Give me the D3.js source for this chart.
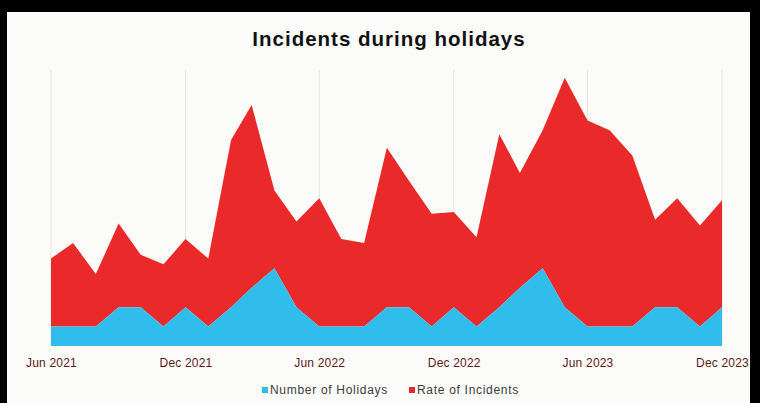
<!DOCTYPE html>
<html><head><meta charset="utf-8">
<script src="https://cdn.jsdelivr.net/npm/d3@7"></script>
<style>
html,body{margin:0;padding:0;background:#000;}
svg{display:block;}
</style></head>
<body>
<svg id="c" width="760" height="403"></svg>
<script>
const months = ["2021-06","2021-07","2021-08","2021-09","2021-10","2021-11","2021-12",
"2022-01","2022-02","2022-03","2022-04","2022-05","2022-06","2022-07","2022-08","2022-09","2022-10","2022-11","2022-12",
"2023-01","2023-02","2023-03","2023-04","2023-05","2023-06","2023-07","2023-08","2023-09","2023-10","2023-11","2023-12"];
const holidays = [1,1,1,2,2,1,2,1,2,3,4,2,1,1,1,2,2,1,2,1,2,3,4,2,1,1,1,2,2,1,2];
const incidentRate = [3.5,4.3,2.7,4.3,2.7,3.2,3.5,3.5,8.6,9.4,4.0,4.4,6.6,4.5,4.3,8.2,6.5,5.8,4.9,4.6,8.9,5.9,7.1,11.8,10.6,10.1,8.8,4.5,5.6,5.2,5.5];
const tickLabels = ["Jun 2021","Dec 2021","Jun 2022","Dec 2022","Jun 2023","Dec 2023"];
const seriesNames = ["Number of Holidays","Rate of Incidents"];
const colors = ["#31bdec","#ea292b"];

const parse = d3.timeParse("%Y-%m");
const data = months.map((m,i)=>({date:parse(m), holidays:holidays[i], rate:incidentRate[i]}));

const svg = d3.select("#c");
svg.append("rect").attr("x",7).attr("y",12).attr("width",743).attr("height",391).attr("fill","#fbfbf9");

const L=51, R=722, T=70, B=346;
const x = d3.scaleTime().domain(d3.extent(data,d=>d.date)).range([L,R]);
const y = d3.scaleLinear().domain([0,14.2]).range([B,T]);

const tickDates = tickLabels.map(t=>d3.timeParse("%b %Y")(t));

// gridlines
svg.append("g").selectAll("line").data(tickDates).join("line")
  .attr("x1",d=>x(d)).attr("x2",d=>x(d)).attr("y1",T).attr("y2",B)
  .attr("stroke","#e9e2de").attr("stroke-width",1);

const stack = d3.stack().keys(["holidays","rate"]);
const layers = stack(data);
const area = d3.area().x(d=>x(d.data.date)).y0(d=>y(d[0])).y1(d=>y(d[1]));
svg.append("g").selectAll("path").data(layers.slice().reverse()).join("path")
  .attr("d",area).attr("fill",(d)=>colors[d.index]);

// axis
const axis = d3.axisBottom(x).tickValues(tickDates).tickFormat((d,i)=>tickLabels[i]).tickSize(0).tickPadding(0);
const ag = svg.append("g").attr("transform",`translate(0,${B+12})`).call(axis);
ag.select(".domain").remove();
ag.selectAll("text").attr("fill","#5e1a1a").attr("font-family","Liberation Sans, Arial, sans-serif").attr("font-size","12px").attr("dy","0.71em").attr("letter-spacing","0.2px");

// title
svg.append("text").attr("x",389).attr("y",46).attr("text-anchor","middle")
  .attr("font-family","Liberation Sans, Arial, sans-serif").attr("font-weight","bold").attr("font-size","20.5px")
  .attr("letter-spacing","1px")
  .attr("fill","#111").text("Incidents during holidays");

// legend
const lg = svg.append("g").attr("font-family","Liberation Sans, Arial, sans-serif").attr("font-size","12px").attr("letter-spacing","0.7px");
const legX = [262, 409];
seriesNames.forEach((n,i)=>{
  lg.append("rect").attr("x",legX[i]).attr("y",387).attr("width",6).attr("height",6).attr("fill",colors[i]);
  lg.append("text").attr("x",legX[i]+8).attr("y",394).attr("fill","#3c3c44").text(n);
});
</script>
</body></html>
